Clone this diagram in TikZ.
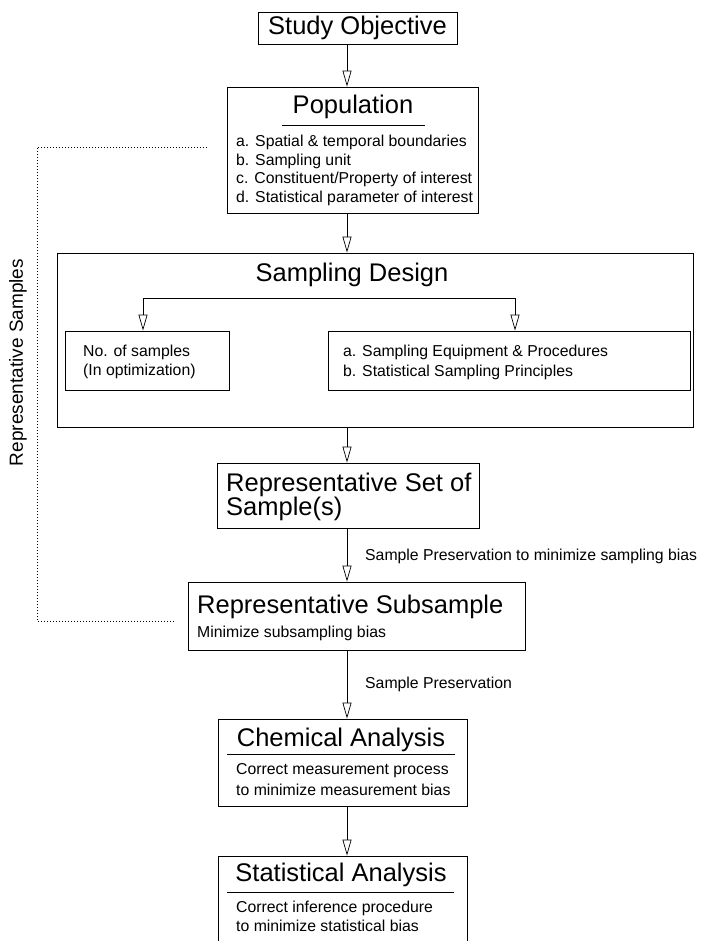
\documentclass[tikz,border=0pt]{standalone}
\usepackage{fontspec}
\setmainfont{Liberation Sans}
\usetikzlibrary{arrows.meta}

\newcommand{\bigfont}{\fontsize{25.5}{24.5}\selectfont}
\newcommand{\smallfont}{\fontsize{15.8}{18.5}\selectfont}

\tikzset{
  tri/.tip={Triangle[open,width=9pt,length=16pt]},
  box/.style={draw,line width=0.8pt,inner sep=0pt},
  flow/.style={-tri,line width=0.7pt},
  fork/.style={tri-tri,line width=0.7pt},
  rule/.style={line width=0.8pt},
  dotline/.style={line width=0.8pt,dash pattern=on 1pt off 2pt},
  head/.style={inner sep=0pt,font=\bigfont},
  txt/.style={inner sep=0pt,anchor=west,font=\smallfont}
}

\begin{document}
\begin{tikzpicture}[x=1pt,y=-1pt]
    \useasboundingbox (0,0) rectangle (714,941);
    \clip (0,0) rectangle (714,941);
    \coordinate (spine) at (347,0);

    % boxes
    \node[box,minimum width=199pt,minimum height=32pt,font=\bigfont] (obj) at (357.5,28) {Study Objective};
    \node[box,minimum width=251pt,minimum height=126pt] (pop) at (352.5,150) {};
    \node[box,minimum width=636pt,minimum height=174pt] (design) at (375,340) {};
    \node[box,minimum width=164pt,minimum height=59pt] (nsamp) at (147,360.5) {};
    \node[box,minimum width=362pt,minimum height=59pt] (equip) at (509,360.5) {};
    \node[box,minimum width=262pt,minimum height=65pt] (repset) at (348,495.5) {};
    \node[box,minimum width=337pt,minimum height=68pt] (repsub) at (356.5,616) {};
    \node[box,minimum width=249pt,minimum height=87pt] (chem) at (342.5,762.5) {};
    \node[box,minimum width=249pt,minimum height=104pt] (stat) at (342.5,908) {};

    % population
    \node[head] (poptitle) at (353,107) {Population};
    \draw[rule] (282,125) -- (425,125);
    \node[txt] (popa) at (236,142) {a. Spatial \& temporal boundaries};
    \node[txt] (popb) at (236,161) {b. Sampling unit};
    \node[txt] (popc) at (236,179.5) {c. Constituent/Property of interest};
    \node[txt] (popd) at (236,198) {d. Statistical parameter of interest};

    % sampling design
    \node[head] (designtitle) at (352,275) {Sampling Design};
    \node[txt] (nsampa) at (83,352) {No. of samples};
    \node[txt] (nsampb) at (83,371) {(In optimization)};
    \node[txt] (equipa) at (343,352) {a. Sampling Equipment \& Procedures};
    \node[txt] (equipb) at (343,372) {b. Statistical Sampling Principles};
    \coordinate (bl) at (143,298);
    \coordinate (br) at (515,298);
    \draw[fork] (nsamp.north -| bl) |- (br) -- (equip.north -| br);

    % samples
    \node[head,anchor=west,align=left] (repsettxt) at (226,497) {Representative Set of\\Sample(s)};
    \node[head,anchor=west] (repsubtitle) at (197,607) {Representative Subsample};
    \node[txt] (repsubtxt) at (197,633) {Minimize subsampling bias};

    % analysis
    \node[head] (chemtitle) at (341,740) {Chemical Analysis};
    \draw[rule] (227,754) -- (455,754);
    \node[txt] (chema) at (236,771) {Correct measurement process};
    \node[txt] (chemb) at (236,790) {to minimize measurement bias};
    \node[head] (stattitle) at (341,875) {Statistical Analysis};
    \draw[rule] (227,892) -- (454,892);
    \node[txt] (stata) at (236,908) {Correct inference procedure};
    \node[txt] (statb) at (236,926) {to minimize statistical bias};

    % main flow
    \draw[flow] (obj.south -| spine) -- (pop.north -| spine);
    \draw[flow] (pop.south -| spine) -- (design.north -| spine);
    \draw[flow] (design.south -| spine) -- (repset.north -| spine);
    \draw[flow] (repset.south -| spine) -- (repsub.north -| spine);
    \draw[flow] (repsub.south -| spine) -- (chem.north -| spine);
    \draw[flow] (chem.south -| spine) -- (stat.north -| spine);
    \node[txt] (pres1) at (365,556) {Sample Preservation to minimize sampling bias};
    \node[txt] (pres2) at (365,684) {Sample Preservation};

    % representative samples loop
    \coordinate (d1) at (207,147);
    \coordinate (d3) at (37,621);
    \coordinate (d4) at (175,621);
    \draw[dotline] (d1) -| (d3) -- (d4);
    \node[rotate=90,inner sep=0pt,font=\fontsize{19}{19}\selectfont] (repsamples) at (18,362.5) {Representative Samples};
\end{tikzpicture}
\end{document}
